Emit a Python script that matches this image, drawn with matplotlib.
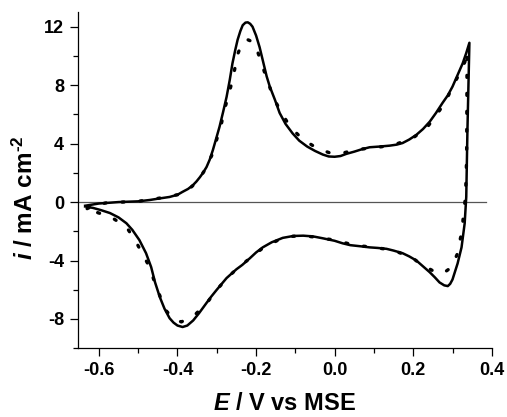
#!/usr/bin/env python3
"""Cyclic voltammogram: measured (solid) vs simulated (dotted) curve."""

import matplotlib
matplotlib.use("Agg")
import matplotlib.pyplot as plt
from matplotlib.ticker import MultipleLocator

plt.rcParams["font.family"] = ["Liberation Sans", "DejaVu Sans"]
plt.rcParams["font.weight"] = "bold"
plt.rcParams["mathtext.fontset"] = "custom"
plt.rcParams["mathtext.it"] = "Liberation Sans:italic:bold"
plt.rcParams["mathtext.rm"] = "Liberation Sans:bold"
plt.rcParams["mathtext.bf"] = "Liberation Sans:bold"

# solid curve: anodic sweep, reversal, cathodic sweep (E in V, i in mA cm-2)
solid_E = [
    -0.635, -0.60, -0.55, -0.50, -0.471, -0.445, -0.42, -0.40, -0.387, -0.373,
    -0.361, -0.352, -0.343, -0.335, -0.326, -0.318, -0.31, -0.302, -0.293,
    -0.284, -0.275, -0.267, -0.26, -0.253, -0.247, -0.24, -0.234, -0.227,
    -0.221, -0.215, -0.209, -0.20, -0.191, -0.182, -0.173, -0.165, -0.152,
    -0.14, -0.125, -0.107, -0.09, -0.07, -0.05, -0.03, -0.015, 0.0, 0.015,
    0.03, 0.05, 0.07, 0.089, 0.115, 0.14, 0.158, 0.173, 0.19, 0.208, 0.225,
    0.242, 0.258, 0.275, 0.288, 0.30, 0.313, 0.326, 0.335, 0.343,
    0.338, 0.335, 0.331, 0.323, 0.313, 0.30, 0.294, 0.288,
    0.279, 0.267, 0.255, 0.242, 0.225, 0.208, 0.19, 0.173, 0.15, 0.132,
    0.11, 0.089, 0.064, 0.04, 0.02, 0.0, -0.03, -0.055, -0.08, -0.105,
    -0.132, -0.16, -0.183, -0.20, -0.216, -0.235, -0.25, -0.275, -0.30,
    -0.315, -0.326, -0.345, -0.36, -0.375, -0.387, -0.40, -0.41, -0.42,
    -0.433, -0.445, -0.457, -0.467, -0.48, -0.497, -0.515, -0.53, -0.55,
    -0.572, -0.595, -0.615, -0.635,
]
solid_i = [
    -0.25, -0.1, 0.0, 0.05, 0.14, 0.25, 0.35, 0.5, 0.7, 0.9,
    1.15, 1.4, 1.7, 2.0, 2.4, 2.9, 3.55, 4.3, 5.15,
    6.15, 7.2, 8.35, 9.5, 10.4, 11.1, 11.7, 12.1, 12.28,
    12.3, 12.2, 12.0, 11.4, 10.6, 9.6, 8.6, 7.9, 7.0,
    6.1, 5.35, 4.7, 4.2, 3.8, 3.5, 3.25, 3.12, 3.1, 3.15,
    3.3, 3.45, 3.62, 3.75, 3.8, 3.86, 3.93, 4.04, 4.28, 4.6, 5.0,
    5.5, 6.1, 6.8, 7.3, 7.9, 8.7, 9.5, 10.2, 10.9,
    4.9, 0.35, -1.45, -3.1, -4.2, -5.3, -5.6, -5.75,
    -5.7, -5.5, -5.15, -4.8, -4.4, -4.0, -3.72, -3.5, -3.32, -3.2,
    -3.14, -3.1, -3.02, -2.95, -2.82, -2.65, -2.48, -2.35, -2.3, -2.32,
    -2.45, -2.75, -3.1, -3.45, -3.85, -4.3, -4.6, -5.2, -6.0,
    -6.5, -6.9, -7.6, -8.1, -8.45, -8.55, -8.45, -8.25, -7.95,
    -7.3, -6.5, -5.5, -4.45, -3.5, -2.6, -1.9, -1.45, -1.05,
    -0.75, -0.55, -0.4, -0.3,
]

# dotted curve
dotted_E = [
    -0.63, -0.61, -0.58, -0.50, -0.45, -0.40, -0.37, -0.35, -0.33, -0.31,
    -0.30, -0.29, -0.282, -0.272, -0.262, -0.255, -0.247, -0.234, -0.22,
    -0.204, -0.191, -0.17, -0.153, -0.135, -0.112, -0.081, -0.046, -0.013,
    0.023, 0.058, 0.096, 0.15, 0.20, 0.235, 0.26, 0.282, 0.30, 0.318, 0.335,
    0.337,
    0.336, 0.333, 0.328, 0.325, 0.32, 0.313, 0.298, 0.28, 0.262, 0.25, 0.216,
    0.20, 0.15, 0.10, 0.05, 0.0, -0.05, -0.08, -0.11, -0.14, -0.183, -0.216,
    -0.25, -0.27, -0.30, -0.325, -0.355, -0.39, -0.41, -0.43, -0.457, -0.47,
    -0.488, -0.506, -0.53, -0.565, -0.60, -0.63,
]
dotted_i = [
    -0.45, -0.2, -0.05, 0.05, 0.25, 0.5, 0.9, 1.4, 2.2, 3.35,
    4.3, 5.1, 6.2, 7.1, 8.15, 9.0, 10.1, 11.0, 11.1,
    10.9, 9.9, 8.2, 7.0, 6.1, 5.1, 4.3, 3.7, 3.37,
    3.37, 3.6, 3.7, 3.9, 4.4, 5.1, 6.0, 6.85, 7.9, 8.8, 9.8,
    10.3,
    3.1, 0.3, -0.7, -1.9, -2.5, -3.5, -4.45, -4.8, -4.9, -4.7, -4.2,
    -3.85, -3.3, -3.1, -2.95, -2.6, -2.4, -2.3, -2.35, -2.55, -3.15, -3.85,
    -4.6, -5.1, -6.0, -6.9, -7.7, -8.2, -8.0, -7.4, -5.6, -4.5,
    -3.6, -2.7, -1.7, -1.1, -0.75, -0.5,
]


def main() -> None:
    fig = plt.figure(figsize=(5.07, 4.17), dpi=100)
    ax = fig.add_axes([0.154, 0.165, 0.816, 0.806])

    ax.axhline(0, xmin=0.0, xmax=0.985, color="#555555", lw=0.9, zorder=1)

    ax.plot(dotted_E, dotted_i, color="black", lw=2.4,
            linestyle=(0, (0.6, 4.8)), dash_capstyle="round", zorder=2)
    ax.plot(solid_E, solid_i, color="black", lw=1.8,
            solid_joinstyle="round", zorder=3)

    ax.set_xlim(-0.653, 0.4)
    ax.set_ylim(-10, 13)

    for side in ("top", "right"):
        ax.spines[side].set_visible(False)
    for side in ("left", "bottom"):
        ax.spines[side].set_linewidth(0.9)

    ax.xaxis.set_major_locator(MultipleLocator(0.2))
    ax.xaxis.set_minor_locator(MultipleLocator(0.1))
    ax.yaxis.set_major_locator(MultipleLocator(4))
    ax.yaxis.set_minor_locator(MultipleLocator(2))
    ax.xaxis.set_major_formatter(plt.FuncFormatter(lambda v, p: f"{v:.1f}"))
    ax.yaxis.set_major_formatter(plt.FuncFormatter(lambda v, p: f"{v:.0f}"))

    ax.tick_params(which="major", direction="out", length=6, width=0.9,
                   labelsize=13, pad=4)
    ax.tick_params(which="minor", direction="out", length=3.5, width=0.9)

    ax.set_xlabel(r"$E$ / V vs MSE", fontsize=17, fontweight="bold",
                  labelpad=9)
    ax.set_ylabel(r"$i$ / mA cm$^{\text{-2}}$", fontsize=17.5,
                  fontweight="bold")
    ax.yaxis.set_label_coords(-0.097, 0.448)

    fig.savefig("out.png", dpi=100)
    plt.close(fig)


if __name__ == "__main__":
    main()
